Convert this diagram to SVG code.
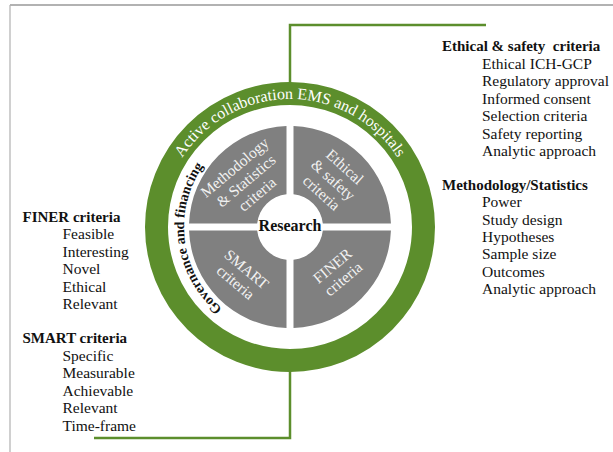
<svg xmlns="http://www.w3.org/2000/svg" xmlns:xlink="http://www.w3.org/1999/xlink" width="613" height="452" viewBox="0 0 613 452">
<style>
.t{font-family:"Liberation Serif","Times New Roman",serif;font-size:15.5px;fill:#111;}
.h{font-family:"Liberation Serif","Times New Roman",serif;font-size:15px;font-weight:bold;fill:#111;}
.q{font-family:"Liberation Serif","Times New Roman",serif;font-size:15.5px;fill:#f2f2f2;text-anchor:middle;}
.quad{fill:#808080;}
.green{fill:none;stroke:#5c8e2c;stroke-width:2.5;}
</style>
<defs>
<path id="arcTop" d="M 162 227 A 128 128 0 0 1 418 227"/>
<path id="arcLeft" d="M 290 333 A 106 106 0 0 1 290 121"/>
</defs>
<rect width="613" height="452" fill="#fff"/>
<g id="frame">
<line x1="10" y1="5" x2="613" y2="5" stroke="#666" stroke-width="1.2"/>
<line x1="10" y1="5" x2="10" y2="452" stroke="#b0b0b0" stroke-width="1.2"/>
</g>
<g id="connectors">
<polyline class="green" points="290,84 290,25 486,25"/>
<polyline class="green" points="290,370 290,438 94,438"/>
</g>
<g id="ring">
<circle cx="290" cy="227" r="133.5" fill="none" stroke="#5c8e2c" stroke-width="23"/>
<text font-family="Liberation Serif, Times New Roman, serif" font-size="16" fill="#fff"><textPath xlink:href="#arcTop" startOffset="50%" text-anchor="middle">Active collaboration EMS and hospitals</textPath></text>
</g>
<g id="governance">
<text font-family="Liberation Serif, Times New Roman, serif" font-size="14" font-weight="bold" fill="#111"><textPath xlink:href="#arcLeft" startOffset="45.8%" text-anchor="middle">Governance and financing</textPath></text>
</g>
<g id="methodology-quadrant">
<path class="quad" d="M 189.06 223.5 A 101 101 0 0 1 286.5 126.06 L 286.5 194.19 A 33 33 0 0 0 257.19 223.5 Z"/>
<g transform="translate(246,181) rotate(-40)">
<text class="q" x="0" y="-12.5">Methodology</text>
<text class="q" x="0" y="5">&amp; Statistics</text>
<text class="q" x="0" y="22.5">criteria</text>
</g>
</g>
<g id="ethical-quadrant">
<path class="quad" d="M 293.5 126.06 A 101 101 0 0 1 390.94 223.5 L 322.81 223.5 A 33 33 0 0 0 293.5 194.19 Z"/>
<g transform="translate(333,180) rotate(42)">
<text class="q" x="0" y="-12.5">Ethical</text>
<text class="q" x="0" y="5">&amp; safety</text>
<text class="q" x="0" y="22.5">criteria</text>
</g>
</g>
<g id="finer-quadrant">
<path class="quad" d="M 390.94 230.5 A 101 101 0 0 1 293.5 327.94 L 293.5 259.81 A 33 33 0 0 0 322.81 230.5 Z"/>
<g transform="translate(338,272.5) rotate(-40)">
<text class="q" x="0" y="-3.5">FINER</text>
<text class="q" x="0" y="13.5">criteria</text>
</g>
</g>
<g id="smart-quadrant">
<path class="quad" d="M 286.5 327.94 A 101 101 0 0 1 189.06 230.5 L 257.19 230.5 A 33 33 0 0 0 286.5 259.81 Z"/>
<g transform="translate(241,276) rotate(40)">
<text class="q" x="0" y="-3.5">SMART</text>
<text class="q" x="0" y="13.5">criteria</text>
</g>
</g>
<g id="research">
<text x="290" y="231" font-family="Liberation Serif, Times New Roman, serif" font-size="16" font-weight="bold" fill="#111" text-anchor="middle">Research</text>
</g>
<g id="ethical-list">
<text class="h" x="442" y="51" style="white-space:pre">Ethical &amp; safety  criteria</text>
<text class="t" x="482" y="68.5">Ethical ICH-GCP</text>
<text class="t" x="482" y="86">Regulatory approval</text>
<text class="t" x="482" y="103.5">Informed consent</text>
<text class="t" x="482" y="121">Selection criteria</text>
<text class="t" x="482" y="138.5">Safety reporting</text>
<text class="t" x="482" y="156">Analytic approach</text>
</g>
<g id="methodology-list">
<text class="h" x="442" y="190">Methodology/Statistics</text>
<text class="t" x="482" y="207">Power</text>
<text class="t" x="482" y="224.5">Study design</text>
<text class="t" x="482" y="242">Hypotheses</text>
<text class="t" x="482" y="259">Sample size</text>
<text class="t" x="482" y="276.5">Outcomes</text>
<text class="t" x="482" y="294">Analytic approach</text>
</g>
<g id="finer-list">
<text class="h" x="22.5" y="221.5">FINER criteria</text>
<text class="t" x="62.5" y="239">Feasible</text>
<text class="t" x="62.5" y="256.5">Interesting</text>
<text class="t" x="62.5" y="274">Novel</text>
<text class="t" x="62.5" y="291.5">Ethical</text>
<text class="t" x="62.5" y="309">Relevant</text>
</g>
<g id="smart-list">
<text class="h" x="22.5" y="343">SMART criteria</text>
<text class="t" x="62.5" y="360.5">Specific</text>
<text class="t" x="62.5" y="378">Measurable</text>
<text class="t" x="62.5" y="395.5">Achievable</text>
<text class="t" x="62.5" y="413">Relevant</text>
<text class="t" x="62.5" y="430.5">Time-frame</text>
</g>
</svg>
